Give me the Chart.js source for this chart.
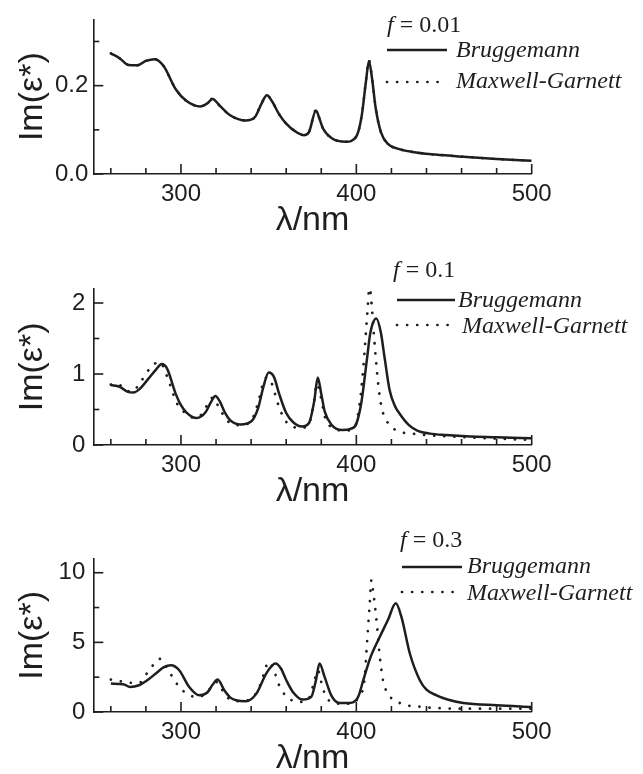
<!DOCTYPE html>
<html><head><meta charset="utf-8">
<script src="https://cdn.jsdelivr.net/npm/chart.js@4/dist/chart.umd.min.js"></script>
<style>
html,body{margin:0;padding:0;background:#fff;width:643px;height:774px;overflow:hidden;position:relative;}
canvas{position:absolute;left:0;}
</style></head><body>
<canvas id="c1"></canvas><canvas id="c2"></canvas><canvas id="c3"></canvas>
<script>
// ---------- data ----------
const seriesNames = ['Bruggemann', 'Maxwell-Garnett'];
const fractions = ['0.01', '0.1', '0.3'];
const xTickLabels = [300, 400, 500];
const xMinorTicks = [260, 280, 320, 340, 360, 380, 420, 440, 460, 480];

// f = 0.01
const p1Wl = [260,265,270,275,280,285,290,297,303,311,315,318,322,328,337,342,346,349,352,356,360,365,370,373,377,379,381,386,394,400,403,405.5,407.2,409,411,414,418,423,432,445,461,480,500];
const p1Brug = [0.273,0.262,0.247,0.246,0.256,0.260,0.245,0.192,0.166,0.153,0.160,0.170,0.155,0.133,0.121,0.128,0.160,0.178,0.164,0.135,0.114,0.097,0.088,0.095,0.144,0.125,0.103,0.081,0.073,0.085,0.130,0.210,0.256,0.215,0.150,0.095,0.068,0.058,0.050,0.044,0.039,0.034,0.030];
const p1Mg = [0.273,0.262,0.247,0.246,0.256,0.260,0.245,0.192,0.166,0.153,0.160,0.171,0.155,0.133,0.121,0.128,0.161,0.178,0.164,0.135,0.114,0.097,0.088,0.095,0.145,0.125,0.103,0.081,0.073,0.085,0.131,0.212,0.258,0.215,0.150,0.095,0.068,0.058,0.050,0.044,0.039,0.034,0.030];
const p1YLabels = [0.0, 0.2];
const p1YMinor = [0.1, 0.3];

// f = 0.1
const p2BrugWl = [260,265,270,273,276,281,286,289,292,297,300,303,309,314,317,319.6,322,325,328,334,340,344,347,350,353,356,360,364,369,373,376,378,380,382,386,392,397,400,403,406,408,411.4,414,416,419,422,425,430,435,442,451,465,480,500];
const p2Brug = [0.845,0.82,0.745,0.74,0.78,0.92,1.07,1.14,1.08,0.72,0.56,0.46,0.38,0.46,0.60,0.69,0.62,0.46,0.35,0.29,0.33,0.52,0.82,1.02,0.96,0.72,0.45,0.32,0.26,0.31,0.62,0.95,0.72,0.47,0.28,0.21,0.23,0.30,0.62,1.20,1.58,1.78,1.58,1.25,0.77,0.55,0.43,0.28,0.20,0.16,0.14,0.12,0.11,0.094];
const p2MgWl = [260,264,268,272,277,282,287.5,290,292,294.5,297,302,308,313,316,318.5,321,325,328,334,340,344,347.5,349.5,352.5,354.5,358,361,368,373,375.5,377.5,379.5,381,382.5,387,393,399,402,404,405.5,406.8,407.4,408.8,410.5,412.5,414.3,418,424.7,432,440,461,480,500];
const p2Mg = [0.85,0.86,0.78,0.75,0.89,1.07,1.17,1.10,0.97,0.80,0.62,0.46,0.38,0.47,0.62,0.67,0.56,0.39,0.31,0.28,0.34,0.60,0.92,0.95,0.82,0.64,0.41,0.30,0.24,0.30,0.55,0.86,0.70,0.52,0.36,0.24,0.20,0.25,0.60,1.10,1.60,2.05,2.28,1.95,1.40,0.85,0.54,0.31,0.19,0.16,0.14,0.11,0.09,0.07];
const p2YLabels = [0, 1, 2];
const p2YMinor = [0.5, 1.5];

// f = 0.3
const p3BrugWl = [260,267,271,276,281,286,290,294.3,299,304.7,310.5,315,318,320.9,324.7,328,331.4,337,343,348.6,353.9,357,360,363.8,369.5,374.3,377,379,381.9,385.7,390.4,396,401,404,408,413,418,422.5,425.7,430.5,436.2,440,445.7,452,461,480,500];
const p3Brug = [2.04,2.0,1.8,1.92,2.3,2.8,3.2,3.36,3.0,1.8,1.2,1.4,1.95,2.33,1.56,1.05,0.84,0.77,1.32,2.76,3.48,3.12,2.3,1.44,0.89,1.08,2.3,3.48,2.52,1.2,0.65,0.65,1.08,2.3,3.9,5.3,6.6,7.8,6.83,4.2,2.28,1.6,1.2,0.9,0.65,0.48,0.36];
const p3MgWl = [260,267.6,272,276.2,281.5,285,288,292,296.2,301.9,308.9,314,318,320.5,323,325.7,333.3,340,344.7,347,350,353.3,355.8,360,367.6,373,376,378,380.6,382.9,390.5,396,401,404.8,405.7,406.6,407.6,408.6,409.5,411.4,413.3,415.2,418,424.7,438,461,500];
const p3Mg = [2.33,2.16,2.1,2.1,2.95,3.5,3.81,3.2,2.28,1.44,1.08,1.3,1.9,2.15,1.7,1.13,0.77,0.95,1.8,2.64,3.6,2.88,1.97,1.13,0.72,1.0,2.2,3.0,1.85,1.04,0.6,0.6,1.0,2.5,4.2,5.9,7.7,9.47,8.76,6.7,4.08,2.28,1.32,0.65,0.36,0.24,0.24];
const p3YLabels = [0, 5, 10];
const p3YMinor = [2.5, 7.5];

// ---------- drawing ----------
const INK = '#1e1e1e';
const pts = (xs, ys) => xs.map((x, i) => ({x: x, y: ys[i]}));

const decor = {
  id: 'decor',
  afterDatasetsDraw(chart, args, o) {
    const ctx = chart.ctx, xs = chart.scales.x, ys = chart.scales.y, a = chart.chartArea;
    ctx.save();
    ctx.strokeStyle = INK; ctx.lineWidth = 1.6; ctx.lineCap = 'butt';
    const seg = (x1, y1, x2, y2) => { ctx.beginPath(); ctx.moveTo(x1, y1); ctx.lineTo(x2, y2); ctx.stroke(); };
    o.xMajor.forEach(v => { const p = xs.getPixelForValue(v); seg(p, a.bottom, p, a.bottom - 10); });
    o.xMinor.forEach(v => { const p = xs.getPixelForValue(v); seg(p, a.bottom, p, a.bottom - 6); });
    o.yMajor.forEach(v => { const p = ys.getPixelForValue(v); seg(a.left, p, a.left + 10, p); });
    o.yMinor.forEach(v => { const p = ys.getPixelForValue(v); seg(a.left, p, a.left + 6, p); });
    // legend
    const L = o.legend;
    ctx.fillStyle = INK; ctx.textAlign = 'left'; ctx.textBaseline = 'alphabetic';
    ctx.font = 'italic 24px "Liberation Serif"';
    ctx.fillText('f', L.x, L.titleY);
    const fw = ctx.measureText('f').width;
    ctx.font = '24px "Liberation Serif"';
    ctx.fillText('= ' + o.fText, L.x + fw + 6, L.titleY);
    chart.data.datasets.forEach((ds, i) => {
      const r = L.rows[i];
      ctx.save();
      ctx.strokeStyle = ds.borderColor; ctx.lineWidth = ds.borderWidth;
      ctx.setLineDash(ds.borderDash || []); ctx.lineCap = ds.borderCapStyle || 'butt';
      seg(r.x1, r.lineY, r.x2, r.lineY);
      ctx.restore();
      ctx.font = 'italic 24px "Liberation Serif"';
      ctx.fillText(ds.label, r.textX, r.textY);
    });
    ctx.restore();
  }
};

function makeChart(id, canvasTop, canvasH, padTop, yMax, yLabels, yMinor, yDigits, yPad, brugData, mgData, fText, legend) {
  const cv = document.getElementById(id);
  cv.width = 643; cv.height = canvasH; cv.style.top = canvasTop + 'px';
  return new Chart(cv, {
    type: 'scatter',
    data: {
      datasets: [
        {label: seriesNames[0], data: brugData, showLine: true, borderColor: INK, borderWidth: 2.5,
         pointRadius: 0, cubicInterpolationMode: 'monotone', borderCapStyle: 'butt'},
        {label: seriesNames[1], data: mgData, showLine: true, borderColor: INK, borderWidth: 2.7,
         borderDash: [0.1, 10], borderCapStyle: 'round', pointRadius: 0, cubicInterpolationMode: 'monotone'}
      ]
    },
    options: {
      responsive: false, animation: false, devicePixelRatio: 1,
      layout: {padding: {top: padTop, right: 111.3, left: 0, bottom: 0}},
      plugins: {legend: {display: false}, tooltip: {enabled: false},
        decor: {xMajor: xTickLabels, xMinor: xMinorTicks, yMajor: yLabels, yMinor: yMinor, fText: fText, legend: legend}},
      scales: {
        x: {type: 'linear', min: 250, max: 500,
          grid: {display: false, drawTicks: false, tickLength: 0},
          border: {display: true, color: INK, width: 1.6},
          afterBuildTicks: s => { s.ticks = xTickLabels.map(v => ({value: v})); },
          afterFit: s => { s.height = 67; },
          ticks: {color: INK, padding: 6, maxRotation: 0, autoSkip: false,
            font: {family: '"Liberation Sans", Arial, sans-serif', size: 24}},
          title: {display: true, text: 'λ/nm', color: INK, padding: {top: 0, bottom: 0},
            font: {family: '"Liberation Sans", Arial, sans-serif', size: 34, lineHeight: 1.2}}
        },
        y: {type: 'linear', min: 0, max: yMax,
          grid: {display: false, drawTicks: false, tickLength: 0},
          border: {display: true, color: INK, width: 1.6},
          afterBuildTicks: s => { s.ticks = yLabels.map(v => ({value: v})); },
          afterFit: s => { s.width = 93.3; },
          ticks: {color: INK, padding: yPad, autoSkip: false,
            callback: v => Number(v).toFixed(yDigits),
            font: {family: '"Liberation Sans", Arial, sans-serif', size: 24}},
          title: {display: true, text: 'Im(ε*)', color: INK, padding: {top: 12, bottom: 0},
            font: {family: '"Liberation Sans", Arial, sans-serif', size: 34, lineHeight: 1.2}}
        }
      }
    },
    plugins: [decor]
  });
}

makeChart('c1', 0, 241, 18.25, 0.35, p1YLabels, p1YMinor, 1, 5,
  pts(p1Wl, p1Brug), pts(p1Wl, p1Mg), fractions[0],
  {x: 387, titleY: 32, rows: [
    {x1: 387, x2: 447, lineY: 50, textX: 456, textY: 57},
    {x1: 387, x2: 447, lineY: 82, textX: 456, textY: 88}]});

makeChart('c2', 250, 262, 38.8, 2.2, p2YLabels, p2YMinor, 0, 8,
  pts(p2BrugWl, p2Brug), pts(p2MgWl, p2Mg), fractions[1],
  {x: 393, titleY: 27, rows: [
    {x1: 397, x2: 455, lineY: 50, textX: 458, textY: 57},
    {x1: 397, x2: 450, lineY: 75, textX: 462, textY: 83}]});

makeChart('c3', 515, 264, 43.8, 11, p3YLabels, p3YMinor, 0, 8,
  pts(p3BrugWl, p3Brug), pts(p3MgWl, p3Mg), fractions[2],
  {x: 400, titleY: 32, rows: [
    {x1: 402, x2: 462, lineY: 52, textX: 467, textY: 58},
    {x1: 402, x2: 457, lineY: 77, textX: 467, textY: 85}]});
</script>
</body></html>
